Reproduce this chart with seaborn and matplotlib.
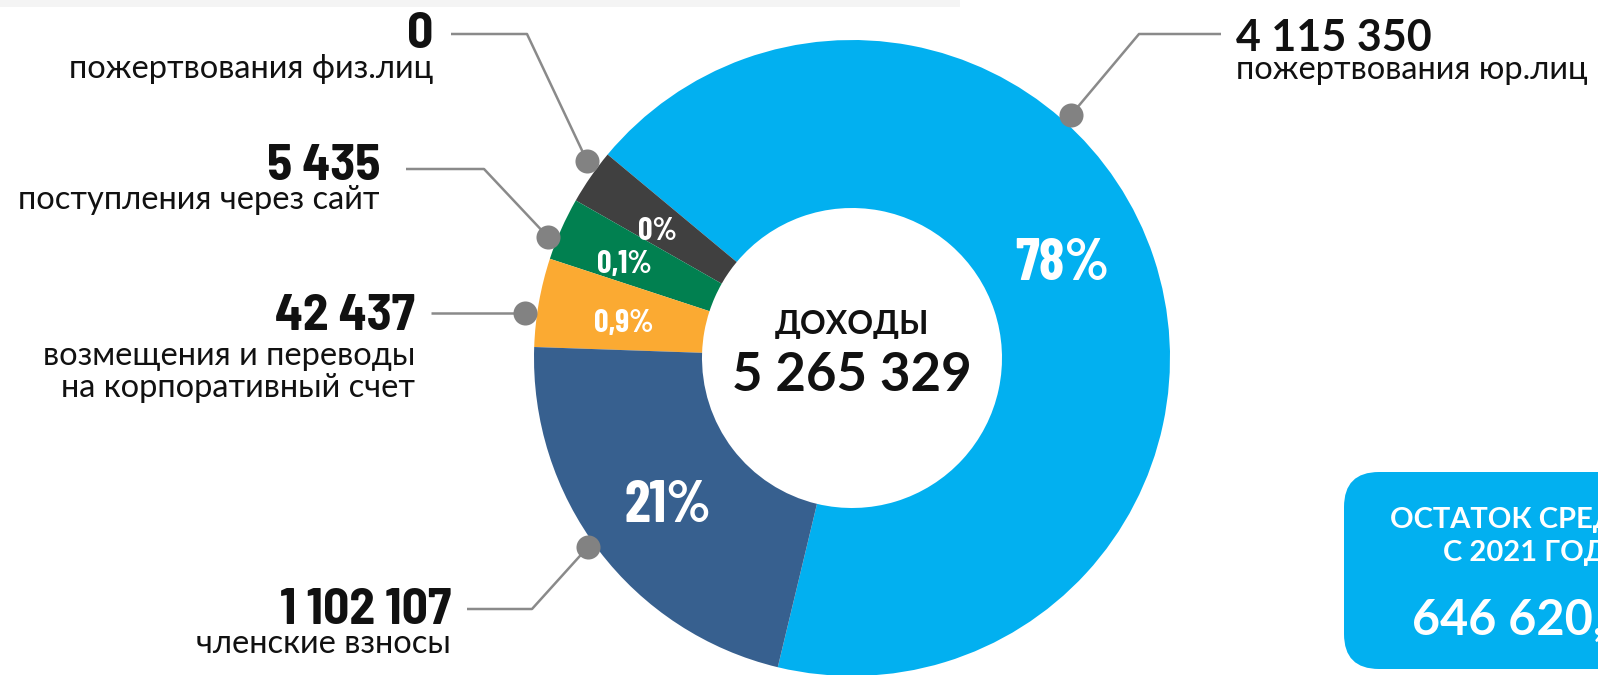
import matplotlib
matplotlib.use("Agg")
from matplotlib import pyplot as plt
from matplotlib.patches import FancyBboxPatch, Rectangle
import seaborn as sns

# data
categories = ["пожертвования юр.лиц", "пожертвования физ.лиц", "поступления через сайт",
              "возмещения и переводы\nна корпоративный счет", "членские взносы"]
amounts = [4115350, 0, 5435, 42437, 1102107]
pct_labels = ["78%", "0%", "0,1%", "0,9%", "21%"]
# the arcs are not drawn to scale in the original, these are the drawn shares
slice_share = [67.7, 2.8, 3.2, 4.5, 21.8]
colors = ["#02B0F0", "#404040", "#018050", "#FBAA32", "#37608F"]
box_title = ["ОСТАТОК СРЕДСТВ", "С 2021 ГОДА"]
box_value = "646 620,"

W, H = 1598, 675


def Y(y):
    # pixel row (from top) -> data y
    return H - y


def fmt(v):
    return f"{v:,}".replace(",", " ")


sns.set_theme(style="white")
plt.rcParams['font.family'] = ['Lato', 'DejaVu Sans']
narrow = ['Barlow Condensed', 'DejaVu Sans']
semi = ['Barlow Semi Condensed', 'Barlow Condensed', 'DejaVu Sans']
ink = '#111111'

fig = plt.figure(figsize=(W / 100, H / 100), dpi=100)
ax = fig.add_axes([0, 0, 1, 1])

cx, cy, r_out, r_in = 852, 358, 318, 150
ax.pie(slice_share, colors=colors, startangle=-103.5, counterclock=True,
       center=(cx, Y(cy)), radius=r_out,
       wedgeprops=dict(width=r_out - r_in, linewidth=0))
ax.set_xlim(0, W)
ax.set_ylim(0, H)
ax.set_aspect('auto')
ax.axis('off')

# faint strip at the top
ax.add_patch(Rectangle((0, Y(7)), 960, 7, color="#f4f4f4", lw=0, zorder=0))

# percent labels inside the ring
pct_pos = [(1062, 280, 42), (657, 240, 23), (624, 273, 23), (624, 332, 23), (668, 522, 42)]
for lab, (x, yb, fs) in zip(pct_labels, pct_pos):
    ax.text(x, Y(yb), lab, ha='center', va='baseline', color='white',
            fontsize=fs, fontweight='bold', family=narrow)

# centre
ax.text(cx, Y(334), "ДОХОДЫ", ha='center', va='baseline', fontsize=23, fontweight='bold', color=ink)
ax.text(cx, Y(391), fmt(sum(amounts)), ha='center', va='baseline', fontsize=38,
        fontweight='bold', color=ink)

# leader lines and dots
leaders = [
    [(1221, 34), (1139, 34), (1071, 115)],
    [(451, 34), (527, 34), (587, 161)],
    [(406, 169), (484, 169), (548, 237)],
    [(431, 313), (525, 313)],
    [(467, 609), (532, 609), (588, 547)],
]
for pts in leaders:
    xs = [p[0] for p in pts]
    ys = [Y(p[1]) for p in pts]
    ax.plot(xs, ys, color="#8a8a8a", lw=1.8, solid_capstyle='butt', zorder=3)
    ax.scatter([xs[-1]], [ys[-1]], s=300, color="#828282", lw=0, zorder=4)

# value labels: (x, value baseline, first category baseline, align)
lab_pos = [(1236, 51, 79, 'left'), (433, 48, 78, 'right'), (380, 180, 209, 'right'),
           (415, 330, 365, 'right'), (451, 624, 653, 'right')]
for i, (x, yv, yc, ha) in enumerate(lab_pos):
    if i == 0:
        ax.text(x, Y(yv), fmt(amounts[i]), ha=ha, va='baseline', fontsize=31,
                fontweight='bold', color=ink)
    else:
        ax.text(x, Y(yv), fmt(amounts[i]), ha=ha, va='baseline', fontsize=37,
                fontweight='bold', color=ink, family=semi)
    for k, line in enumerate(categories[i].split("\n")):
        ax.text(x, Y(yc + 32 * k), line, ha=ha, va='baseline', fontsize=23.5, color=ink)

# box at the bottom right (cut by the edge)
ax.add_patch(FancyBboxPatch((1344, Y(669)), 400, 669 - 472,
                            boxstyle="round,pad=0,rounding_size=35",
                            fc=colors[0], ec='none', zorder=2))
ax.text(1390, Y(528), box_title[0], ha='left', va='baseline', fontsize=21,
        fontweight='bold', color='white', zorder=3)
ax.text(1443, Y(561), box_title[1], ha='left', va='baseline', fontsize=21,
        fontweight='bold', color='white', zorder=3)
ax.text(1412, Y(635), box_value, ha='left', va='baseline', fontsize=35,
        fontweight='bold', color='white', zorder=3)

plt.savefig("out.png", dpi=100)
